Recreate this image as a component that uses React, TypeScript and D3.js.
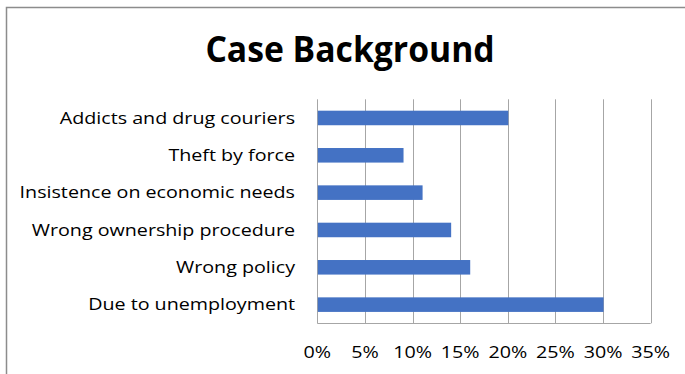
import React, { useEffect, useRef } from "react";
import * as d3 from "d3";

const categories = [
  "Addicts and drug couriers",
  "Theft by force ",
  "Insistence on economic needs",
  "Wrong ownership procedure",
  "Wrong policy",
  "Due to unemployment",
];
const values = [20, 9, 11, 14, 16, 30];
const xTicks = [0, 5, 10, 15, 20, 25, 30, 35];
const title = "Case Background";

const W = 685;
const H = 374;

export default function App() {
  const ref = useRef<SVGSVGElement>(null);
  useEffect(() => {
    const svg = d3.select(ref.current);
    svg.selectAll("*").remove();
    const font = "'Open Sans', sans-serif";
    const sx = 1.23;

    svg.append("rect").attr("x", 0).attr("y", 0).attr("width", W).attr("height", H).attr("fill", "#fff");
    // outer frame
    svg.append("path").attr("d", `M6.5,${H} V7.5 H${W}`).attr("fill", "none").attr("stroke", "#8c8c8c").attr("stroke-width", 1.5);

    svg.append("text")
      .attr("transform", "translate(350,61.5) scale(0.963,1)")
      .attr("text-anchor", "middle")
      .attr("font-family", font).attr("font-weight", "bold").attr("font-size", 35)
      .attr("fill", "#000")
      .text(title);

    const x = d3.scaleLinear().domain([0, 35]).range([317.3, 650.7]);
    const y = d3.scaleBand<string>().domain(categories).range([99.3, 323.3]).paddingInner(0.61).paddingOuter(0.305);

    const g = svg.append("g");
    // gridlines
    g.selectAll("line.grid").data(xTicks).enter().append("line")
      .attr("x1", (d) => Math.round(x(d)) + 0.5).attr("x2", (d) => Math.round(x(d)) + 0.5)
      .attr("y1", 99.3).attr("y2", 323.3)
      .attr("stroke", "#a6a6a6").attr("stroke-width", 1);
    // bottom axis line
    g.append("line").attr("x1", x(0)).attr("x2", x(35)).attr("y1", 323.5).attr("y2", 323.5)
      .attr("stroke", "#a6a6a6").attr("stroke-width", 1);

    g.selectAll("rect.bar").data(values).enter().append("rect")
      .attr("x", x(0) + 0.5)
      .attr("y", (_, i) => y(categories[i])!)
      .attr("width", (d) => x(d) - x(0))
      .attr("height", y.bandwidth())
      .attr("fill", "#4472c4");

    g.selectAll("text.cat").data(categories).enter().append("text")
      .attr("transform", (d) => `translate(295,${y(d)! + y.bandwidth() / 2}) scale(${sx},1)`)
      .attr("dy", "0.35em")
      .attr("text-anchor", "end")
      .attr("font-family", font).attr("font-size", 16)
      .attr("fill", "#000")
      .text((d) => d);

    g.selectAll("text.tick").data(xTicks).enter().append("text")
      .attr("transform", (d) => `translate(${x(d)},352) scale(${sx},1)`)
      .attr("dy", "0.35em")
      .attr("text-anchor", "middle")
      .attr("font-family", font).attr("font-size", 16)
      .attr("fill", "#000")
      .text((d) => `${d}%`);
  }, []);

  return (
    <svg
      ref={ref}
      width={W}
      height={H}
      style={{ position: "absolute", left: 0, top: 0, display: "block" }}
    />
  );
}
